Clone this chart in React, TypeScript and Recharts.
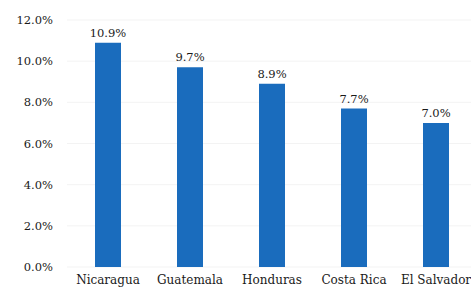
import React from 'react';
import { BarChart, Bar, XAxis, YAxis, CartesianGrid, LabelList } from 'recharts';

const countries = ['Nicaragua', 'Guatemala', 'Honduras', 'Costa Rica', 'El Salvador'];
const rates = [10.9, 9.7, 8.9, 7.7, 7.0];
const yTicks = [0, 2, 4, 6, 8, 10, 12];

const data = countries.map((c, i) => ({ country: c, rate: rates[i] }));
const font = 'DejaVu Serif';
const pct = (v: number) => `${Number(v).toFixed(1)}%`;

export default function App() {
  return (
    <div style={{ position: 'absolute', left: 0, top: 0, width: 471, height: 291, overflow: 'hidden', background: '#fff' }}>
      <BarChart width={477} height={291} data={data} margin={{ top: 20, right: 0, bottom: 0, left: 0 }}>
        <CartesianGrid vertical={false} stroke="#f3f3f3" />
        <XAxis
          dataKey="country"
          axisLine={false}
          tickLine={false}
          tickSize={0}
          tickMargin={8}
          height={24}
          interval={0}
          tick={{ fontFamily: font, fontSize: 12, fill: '#1a1a1a' }}
        />
        <YAxis
          domain={[0, 12]}
          ticks={yTicks}
          tickFormatter={pct}
          axisLine={false}
          tickLine={false}
          tickSize={0}
          tickMargin={14}
          width={67}
          tick={{ fontFamily: font, fontSize: 11.5, fill: '#1a1a1a' }}
        />
        <Bar dataKey="rate" fill="#1a6cbd" barSize={26} isAnimationActive={false}>
          <LabelList dataKey="rate" position="top" offset={6} formatter={pct} fontFamily={font} fontSize={11.5} fill="#1a1a1a" />
        </Bar>
      </BarChart>
    </div>
  );
}
